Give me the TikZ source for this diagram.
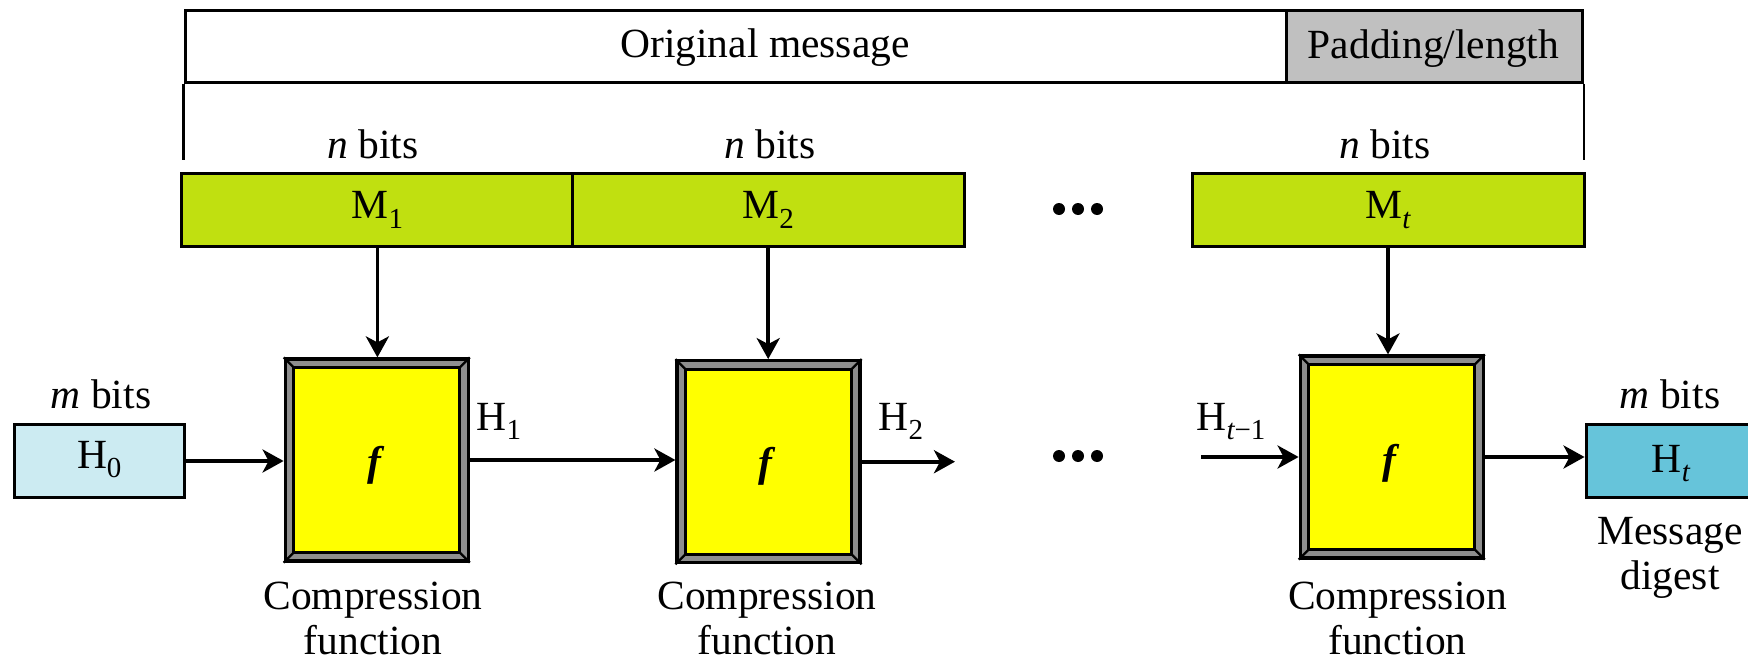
\documentclass[tikz,border=0pt]{standalone}
\usepackage{fontspec}
\setmainfont{Liberation Serif}
\usetikzlibrary{arrows.meta}
\definecolor{mgreen}{HTML}{C0E010}
\definecolor{bevel}{HTML}{8E8E8E}
\definecolor{padgray}{HTML}{C0C0C0}
\definecolor{hzero}{HTML}{CCEBF2}
\definecolor{hlast}{HTML}{66C4DA}
\definecolor{fyellow}{HTML}{FFFF00}
\newcommand\sbs[1]{\raisebox{-0.24em}{\fontsize{29}{29}\selectfont #1}}
\begin{document}
\begin{tikzpicture}[x=1pt,y=-1pt,
  font=\fontsize{41.5}{45}\selectfont,
  txt/.style={inner sep=0pt, anchor=base},
  bar/.style={draw, line width=3pt, inner sep=0pt, minimum height=72pt},
  mbox/.style={draw, line width=3pt, fill=mgreen, inner sep=0pt, minimum width=392pt, minimum height=72.7pt, text height=28pt, text depth=12pt},
  hbox/.style={draw, line width=3pt, inner sep=0pt, minimum width=169.5pt, minimum height=73.4pt, text height=28pt},
  fbox/.style={draw, line width=3.2pt, fill=bevel, inner sep=0pt, minimum width=183pt, minimum height=202pt},
  inner/.style={draw, line width=2.8pt, fill=fyellow},
  arr/.style={line width=3.8pt, -{Stealth[length=21pt,width=23pt,inset=6pt]}},
  dotc/.style={circle, fill, inner sep=0pt, minimum size=12pt}
]
\useasboundingbox (0,0) rectangle (1748,661);

% top bar
\node[bar, minimum width=1101.3pt, anchor=north west] (orig) at (183.7,9.3) {};
\node[bar, fill=padgray, minimum width=296pt, anchor=north west] (pad) at (1285,9.3) {};
\node[txt] (origt) at (765,58) {Original message};
\node[txt] (padt) at (1433.5,59) {Padding/length};
\draw[line width=2.6pt] (orig.south west) -- ++(0,75.4);
\draw[line width=2.6pt] (pad.south east) -- ++(0,75.4);

% n bits labels
\node[txt] (nb1) at (373,158) {\textit{n} bits};
\node[txt] (nb2) at (770,158) {\textit{n} bits};
\node[txt] (nb3) at (1385,158) {\textit{n} bits};

% message blocks
\node[mbox] (m1) at (377.4,210.3) {M\sbs{1}};
\node[mbox] (m2) at (768.2,210.3) {M\sbs{2}};
\node[mbox] (mt) at (1388,210.3) {M\sbs{\itshape t}};

% dots
\node[dotc] (d1) at (1059,209) {};
\node[dotc] (d2) at (1078,209) {};
\node[dotc] (d3) at (1097,209) {};
\node[dotc] (d4) at (1059,456) {};
\node[dotc] (d5) at (1078,456) {};
\node[dotc] (d6) at (1097,456) {};

% compression boxes
\foreach \n/\x/\y in {f1/376.7/460, f2/768.5/461.7, f3/1391.7/457}{
  \node[fbox] (\n) at (\x,\y) {};
  \draw[inner] ([shift={(10,10)}]\n.north west) rectangle ([shift={(-10,-10)}]\n.south east);
  \draw[line width=2.2pt] (\n.north west) -- +(10,10);
  \draw[line width=2.2pt] (\n.north east) -- +(-10,10);
  \draw[line width=2.2pt] (\n.south west) -- +(10,-10);
  \draw[line width=2.2pt] (\n.south east) -- +(-10,-10);
}
\node[inner sep=0pt] (ft1) at (376,465) {\textbf{\textit{f}}};
\node[inner sep=0pt] (ft2) at (767,466.5) {\textbf{\textit{f}}};
\node[inner sep=0pt] (ft3) at (1391,463) {\textbf{\textit{f}}};

% chaining values
\node[hbox, fill=hzero, text depth=14pt] (h0) at (99.25,461) {H\sbs{0}};
\node[hbox, fill=hlast, text depth=6pt] (ht) at (1670.8,461) {H\sbs{\itshape t}};
\node[txt] (mb1) at (101,408) {\textit{m} bits};
\node[txt] (mb2) at (1670,408) {\textit{m} bits};

% arrows
\draw[arr] (m1.south) -- (m1.south |- f1.north);
\draw[arr] (m2.south) -- (m2.south |- f2.north);
\draw[arr] (mt.south) -- (mt.south |- f3.north);
\draw[arr] (h0.east) -- (h0.east -| f1.west);
\draw[arr] (f1.east) -- (f1.east -| f2.west);
\coordinate (h2end) at (955,461.7);
\draw[arr] (f2.east) -- (h2end);
\coordinate (htstart) at (1201,457);
\draw[arr] (htstart) -- (f3.west);
\draw[arr] (f3.east) -- (f3.east -| ht.west);

% H labels
\node[txt] (lh1) at (499,430) {H\sbs{1}};
\node[txt] (lh2) at (901,430) {H\sbs{2}};
\node[txt] (lht) at (1231,430) {H\sbs{\itshape t\upshape −1}};

% captions
\node[inner sep=0pt, anchor=north, align=center] (c1) at (373,582) {Compression\\function};
\node[inner sep=0pt, anchor=north, align=center] (c2) at (767,582) {Compression\\function};
\node[inner sep=0pt, anchor=north, align=center] (c3) at (1397.5,582) {Compression\\function};
\node[inner sep=0pt, anchor=north, align=center] (md) at (1670,517) {Message\\digest};
\end{tikzpicture}
\end{document}
